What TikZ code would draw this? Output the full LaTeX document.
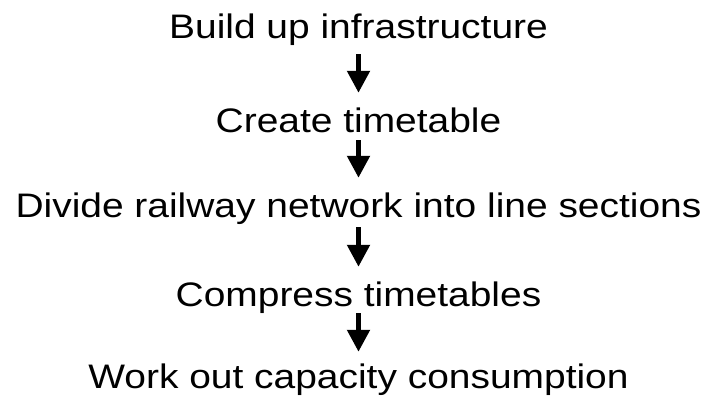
\documentclass[tikz,border=0pt]{standalone}
\usepackage{fontspec}
\setmainfont{Liberation Sans}
\usepackage{tikz}
\usetikzlibrary{arrows.meta, positioning, calc}

\tikzset{
	passo/.style={font=\fontsize{34}{40}\selectfont, inner sep=0pt, anchor=base,
		text height=23pt, text depth=0pt, xscale=1.145, transform shape},
	freccia/.style={line width=5pt, -{Triangle[length=22pt, width=22pt]}, shorten >=16pt}
}

\begin{document}
\begin{tikzpicture}[x=1pt, y=1pt]
		\useasboundingbox (0,0) rectangle (704,-396);

		\node[passo] (Infrastruttura) at (358.5,-39) {Build up infrastructure};
		\node[passo] (Orario) at (358.5,-132) {Create timetable};
		\node[passo] (Sezioni) at (358.5,-217) {Divide railway network into line sections};
		\node[passo] (Compressione) at (358.5,-306) {Compress timetables};
		\node[passo] (Capacita) at (358.5,-388) {Work out capacity consumption};

		\draw[freccia, shorten <=15pt] (Infrastruttura.south) to (Orario.north);
		\draw[freccia, shorten <=8pt] (Orario.south) to (Sezioni.north);
		\draw[freccia, shorten <=10pt] (Sezioni.south) to (Compressione.north);
		\draw[freccia, shorten <=7pt, shorten >=13pt] (Compressione.south) to (Capacita.north);
	\end{tikzpicture}
\end{document}
